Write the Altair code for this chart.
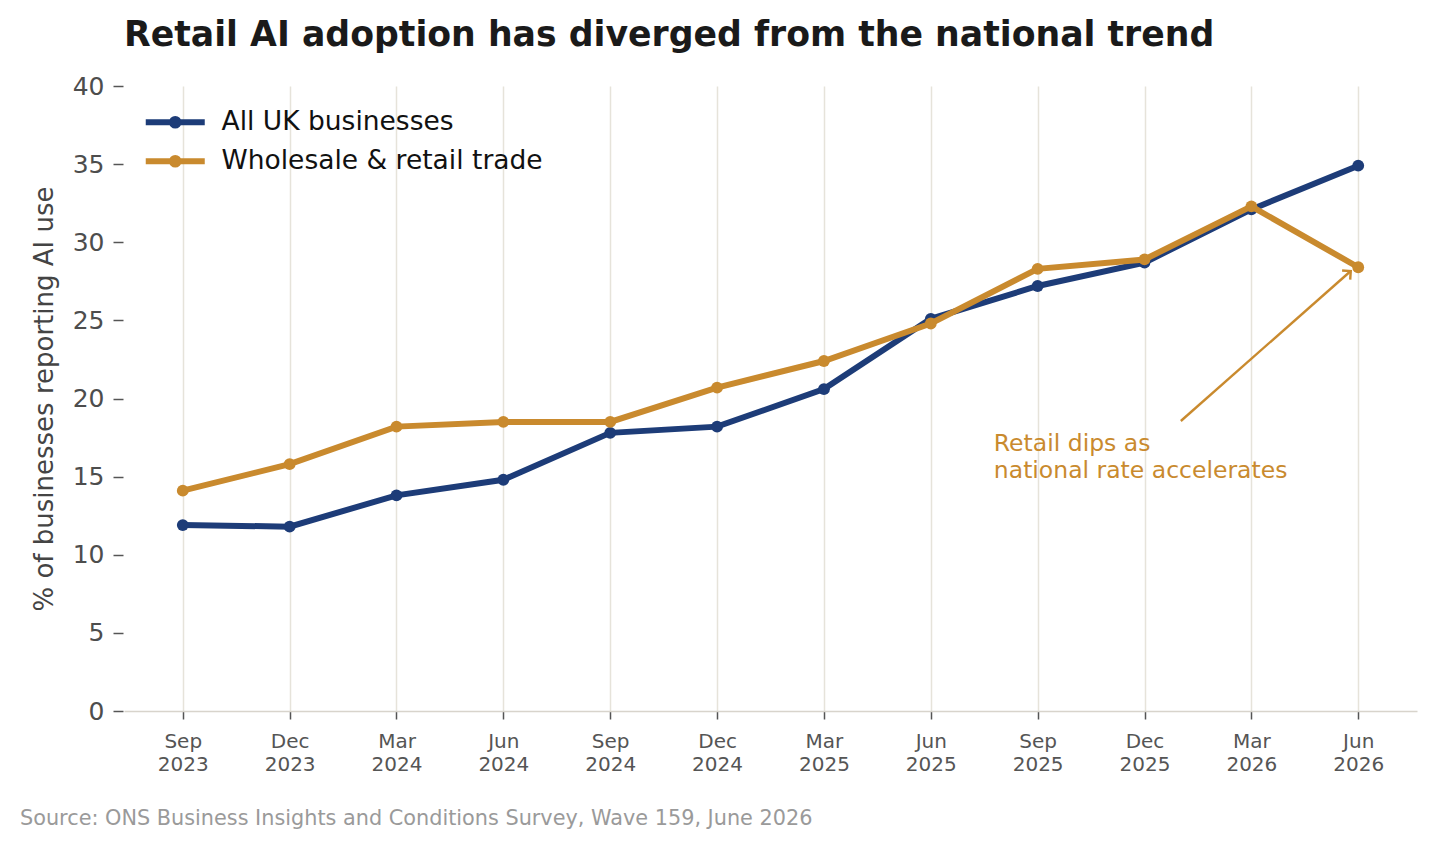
import json
import math
import altair as alt
import pandas as pd

# ---------------- data ----------------
quarters = ["Sep 2023", "Dec 2023", "Mar 2024", "Jun 2024", "Sep 2024", "Dec 2024",
            "Mar 2025", "Jun 2025", "Sep 2025", "Dec 2025", "Mar 2026", "Jun 2026"]
series_names = ["All UK businesses", "Wholesale & retail trade"]
all_uk = [11.9, 11.8, 13.8, 14.8, 17.8, 18.2, 20.6, 25.1, 27.2, 28.7, 32.1, 34.9]
retail = [14.1, 15.8, 18.2, 18.5, 18.5, 20.7, 22.4, 24.8, 28.3, 28.9, 32.3, 28.4]
y_ticks = [0, 5, 10, 15, 20, 25, 30, 35, 40]

title_text = "Retail AI adoption has diverged from the national trend"
y_title = "% of businesses reporting AI use"
source_text = "Source: ONS Business Insights and Conditions Survey, Wave 159, June 2026"
annotation_text = "Retail dips as\nnational rate accelerates"
annotation_xy = [7.59, 16.64]
arrow_from = [9.34, 18.56]
arrow_to = [10.93, 28.16]

# ---------------- style ----------------
BLUE = "#1d3c78"
GOLD = "#c98a2e"
GRID = "#e6e3da"
FONT = "DejaVu Sans"
W, H = 1293, 625
X_DOMAIN = [-0.55, 11.55]
Y_DOMAIN = [0, 40]

rows = []
for name, vals in zip(series_names, [all_uk, retail]):
    for i, (q, v) in enumerate(zip(quarters, vals)):
        rows.append({"idx": i, "quarter": q, "series": name, "value": v})
df = pd.DataFrame(rows)

label_expr = "split(" + json.dumps(quarters) + "[datum.value], ' ')"

x_enc = alt.X(
    "idx:Q",
    scale=alt.Scale(domain=X_DOMAIN, nice=False, zero=False),
    axis=alt.Axis(
        values=list(range(len(quarters))), labelExpr=label_expr, title=None,
        grid=True, gridColor=GRID, gridWidth=1.5,
        domainColor="#d8d4cc", domainWidth=1.5,
        tickColor="#555555", tickSize=8, tickWidth=1.5,
        labelFontSize=20, labelColor="#555555", labelLineHeight=23,
        labelPadding=12, labelOverlap=False, labelBound=False, labelFont=FONT,
    ),
)
y_enc = alt.Y(
    "value:Q",
    scale=alt.Scale(domain=Y_DOMAIN, nice=False),
    axis=alt.Axis(
        values=y_ticks, title=y_title, grid=False, domain=False,
        tickColor="#555555", tickSize=10, tickWidth=1.5, offset=1,
        labelFontSize=25, labelColor="#4d4d4d", labelPadding=9, labelFont=FONT,
        titleFontSize=26, titleColor="#444444", titleFontWeight="normal",
        titlePadding=15, titleFont=FONT,
    ),
)

legend_symbol = ("M-2.95,0L2.95,0M-0.33,0A0.33,0.33,0,1,1,0.33,0"
                 "A0.33,0.33,0,1,1,-0.33,0Z")
color_enc = alt.Color(
    "series:N",
    scale=alt.Scale(domain=series_names, range=[BLUE, GOLD]),
    legend=alt.Legend(
        title=None, orient="none", legendX=38, legendY=23, direction="vertical",
        symbolType=legend_symbol, symbolSize=400, symbolStrokeWidth=6,
        labelFontSize=26.5, labelColor="#111111", labelFont=FONT, labelLimit=0,
        labelOffset=33, rowPadding=7, padding=0,
    ),
)

base = alt.Chart(df).encode(x=x_enc, y=y_enc, color=color_enc)
layers = []
for name in series_names:
    layers.append(
        base.transform_filter(alt.datum.series == name).mark_line(
            strokeWidth=6,
            point=alt.OverlayMarkDef(size=140, filled=True, opacity=1),
        )
    )

ann_df = pd.DataFrame({"idx": [annotation_xy[0]], "value": [annotation_xy[1]],
                       "label": [annotation_text]})
annotation = alt.Chart(ann_df).mark_text(
    align="left", baseline="alphabetic", fontSize=23.5, color=GOLD,
    lineBreak="\n", lineHeight=27, font=FONT,
).encode(x=x_enc, y=y_enc, text="label:N")

arrow_df = pd.DataFrame({"idx": [arrow_from[0]], "value": [arrow_from[1]],
                         "idx2": [arrow_to[0]], "value2": [arrow_to[1]]})
arrow_line = alt.Chart(arrow_df).mark_rule(color=GOLD, strokeWidth=2.4).encode(
    x=x_enc, y=y_enc, x2="idx2:Q", y2="value2:Q")

dx_px = (arrow_to[0] - arrow_from[0]) * W / (X_DOMAIN[1] - X_DOMAIN[0])
dy_px = -(arrow_to[1] - arrow_from[1]) * H / (Y_DOMAIN[1] - Y_DOMAIN[0])
angle = math.degrees(math.atan2(dy_px, dx_px)) % 360
head_df = pd.DataFrame({"idx": [arrow_to[0]], "value": [arrow_to[1]]})
arrow_head = alt.Chart(head_df).mark_point(
    shape="M-1,-1L0,0L-1,1", filled=False, color=GOLD, strokeWidth=2.4,
    size=150, angle=angle, opacity=1,
).encode(x=x_enc, y=y_enc)

src_df = pd.DataFrame({"label": [source_text]})
source = alt.Chart(src_df).mark_text(
    align="left", baseline="middle", fontSize=20.8, color="#9a9a9a", font=FONT,
).encode(x=alt.value(-104), y=alt.value(733), text="label:N")

chart = alt.layer(*layers, annotation, arrow_line, arrow_head, source).properties(
    width=W, height=H,
    title=alt.TitleParams(
        title_text, anchor="start", frame="group", fontSize=34.7,
        fontWeight="bold", color="#1a1a1a", offset=20, font=FONT,
    ),
    autosize=alt.AutoSizeParams(type="none"),
    padding={"left": 124, "top": 86, "right": 18, "bottom": 138},
).configure(font=FONT, background="white").configure_view(strokeWidth=0, stroke=None)

chart.save("out.html", embed_options={"renderer": "svg", "actions": False})
